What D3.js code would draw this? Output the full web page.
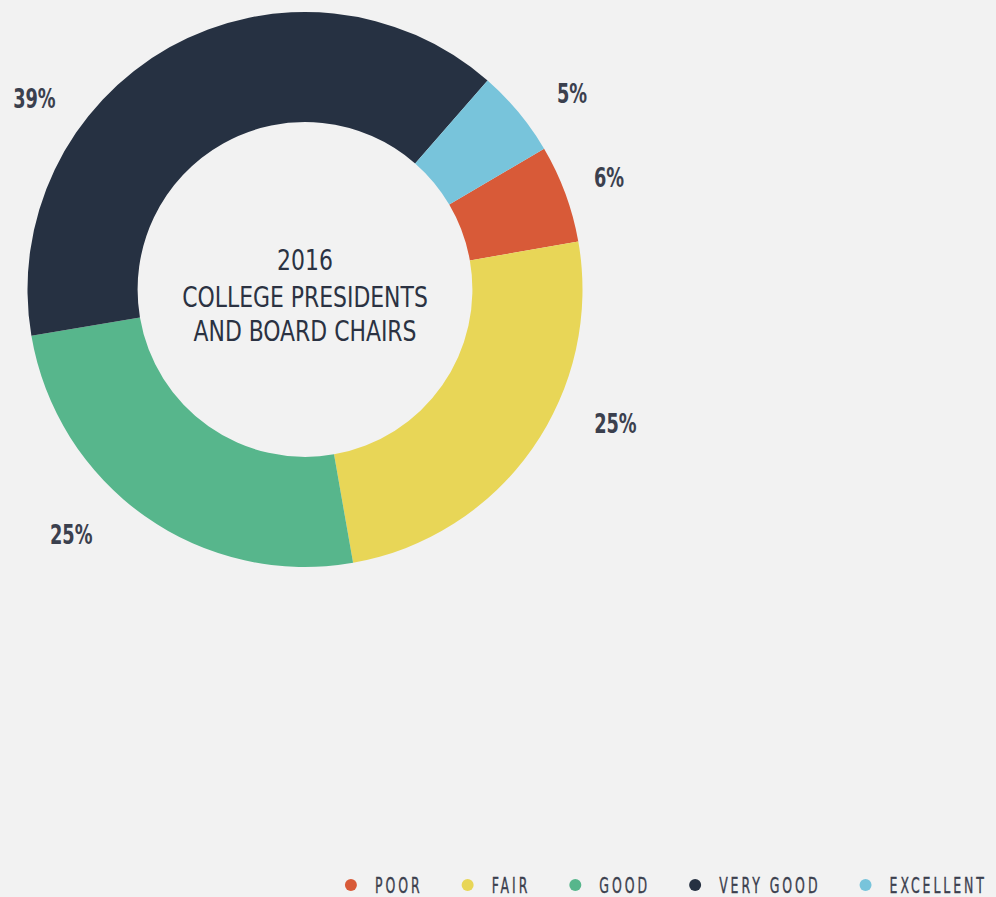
<!DOCTYPE html>
<html>
<head>
<meta charset="utf-8">
<script src="https://cdn.jsdelivr.net/npm/d3@7"></script>
<style>
  html, body { margin: 0; padding: 0; background: #f2f2f2; }
  svg { display: block; }
</style>
</head>
<body>
<div id="chart"></div>
<script>
// data
const categories = ["POOR", "FAIR", "GOOD", "VERY GOOD", "EXCELLENT"];
const values = [5.7, 25, 25.1, 39.1, 5.1];
const colors = ["#d85a38", "#e8d657", "#57b68c", "#263142", "#78c4db"];
const centerLines = ["2016", "COLLEGE PRESIDENTS", "AND BOARD CHAIRS"];

const width = 996;
const height = 897;
const cx = 305, cy = 289.5;
const outerR = 277.5, innerR = 167.4;
const fontStack = "'Liberation Sans Narrow', 'DejaVu Sans Condensed', sans-serif";

// labels sit near the slice middle, pushed a bit to stay inside the frame
const labelNudge = { "POOR": [0, 324], "FAIR": [-11.7, 338], "GOOD": [8.4, 339], "VERY GOOD": [-25.6, 331], "EXCELLENT": [3.45, 331] };

const data = categories.map((c, i) => ({ name: c, value: values[i], color: colors[i] }));

const svg = d3.select("#chart")
  .append("svg")
  .attr("width", width)
  .attr("height", height);

svg.append("rect")
  .attr("width", width)
  .attr("height", height)
  .attr("fill", "#f2f2f2");

const g = svg.append("g")
  .attr("transform", "translate(" + cx + "," + cy + ")");

const startA = 59.5 * Math.PI / 180;
const pie = d3.pie()
  .value(d => d.value)
  .sort(null)
  .startAngle(startA)
  .endAngle(startA + 2 * Math.PI);

const arc = d3.arc()
  .innerRadius(innerR)
  .outerRadius(outerR);

const arcs = pie(data);

g.selectAll(".slice")
  .data(arcs)
  .enter()
  .append("path")
  .attr("class", "slice")
  .attr("d", arc)
  .attr("fill", d => d.data.color);

g.selectAll(".pct")
  .data(arcs)
  .enter()
  .append("text")
  .attr("class", "pct")
  .attr("transform", function(d) {
    const nudge = labelNudge[d.data.name];
    const a = (d.startAngle + d.endAngle) / 2 + nudge[0] * Math.PI / 180;
    return "translate(" + (Math.sin(a) * nudge[1]) + "," + (-Math.cos(a) * nudge[1]) + ") scale(0.76,1)";
  })
  .attr("dy", "0.357em")
  .attr("text-anchor", "middle")
  .style("font-family", fontStack)
  .style("font-weight", "bold")
  .style("font-size", "26px")
  .attr("fill", "#3b404e")
  .text(d => Math.round(d.value) + "%");

// centre title
const baselines = [270, 306.7, 341];
centerLines.forEach((line, i) => {
  svg.append("text")
    .attr("transform", "translate(" + cx + "," + baselines[i] + ") scale(0.87,1)")
    .attr("text-anchor", "middle")
    .style("font-family", fontStack)
    .style("font-size", "28px")
    .attr("fill", "#2b3242")
    .text(line);
});

// legend, flowing leftwards from the right edge
const legend = svg.append("g").attr("class", "legend");
const sx = 0.66, spacing = 4.5;
let xRight = 984;
const legendY = 885;
data.slice().reverse().forEach(d => {
  const item = legend.append("g");
  const t = item.append("text")
    .attr("x", 0)
    .attr("y", 0)
    .style("font-family", fontStack)
    .style("font-size", "21px")
    .style("letter-spacing", spacing + "px")
    .attr("fill", "#3b404e")
    .attr("stroke", "#3b404e")
    .attr("stroke-width", 0.35)
    .text(d.name);
  const w = (t.node().getComputedTextLength() - spacing) * sx;
  t.attr("transform", "translate(" + (xRight - w) + "," + (legendY + 7.5) + ") scale(" + sx + ",1)");
  item.append("circle")
    .attr("cx", xRight - w - 24)
    .attr("cy", legendY)
    .attr("r", 6)
    .attr("fill", d.color);
  xRight = xRight - w - 24 - 48;
});
</script>
</body>
</html>
